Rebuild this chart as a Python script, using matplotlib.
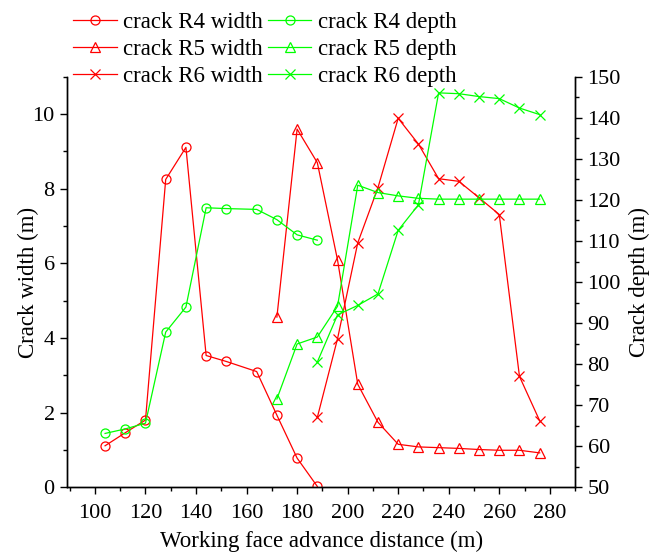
import numpy as np
import matplotlib
matplotlib.use('Agg')
import matplotlib.pyplot as plt
from matplotlib.ticker import MultipleLocator

plt.rcParams['font.family'] = 'Liberation Serif'
plt.rcParams['font.size'] = 16.5

# advance distance (m)
x_r4 = [104, 112, 120, 128, 136, 144, 152, 164, 172, 180, 188]
x_r5 = [172, 180, 188, 196, 204, 212, 220, 228, 236, 244, 252, 260, 268, 276]
x_r6 = [188, 196, 204, 212, 220, 228, 236, 244, 252, 260, 268, 276]

# crack width (m)
r4_width = [1.11, 1.46, 1.80, 8.25, 9.11, 3.53, 3.37, 3.10, 1.93, 0.78, 0.02]
r5_width = [4.56, 9.60, 8.70, 6.09, 2.76, 1.74, 1.15, 1.08, 1.06, 1.04, 1.01, 0.99, 0.99, 0.92]
r6_width = [1.87, 3.98, 6.55, 8.03, 9.89, 9.20, 8.27, 8.20, 7.76, 7.31, 2.97, 1.78]

# crack depth (m)
r4_depth = [63.1, 64.2, 65.6, 87.8, 93.9, 118.1, 117.9, 117.7, 115.2, 111.5, 110.2]
r5_depth = [71.5, 84.9, 86.6, 94.1, 123.6, 121.8, 121.0, 120.4, 120.2, 120.2, 120.2, 120.2, 120.2, 120.2]
r6_depth = [80.5, 92.0, 94.3, 97.1, 112.6, 118.8, 146.1, 145.9, 145.2, 144.7, 142.4, 140.8]

red = '#ff0000'
green = '#00ff00'

fig = plt.figure(figsize=(6.52, 5.53), dpi=100)
ax = fig.add_axes([0.103, 0.119, 0.779, 0.742])
ax2 = ax.twinx()

kw = dict(lw=0.9, ms=6.5, mfc='none', mew=0.9)
h1, = ax.plot(x_r4, r4_width, color=red, marker='o', label='crack R4 width', **kw)
h2, = ax.plot(x_r5, r5_width, color=red, marker='^', label='crack R5 width', **kw)
h3, = ax.plot(x_r6, r6_width, color=red, marker='x', label='crack R6 width', **kw)
h4, = ax2.plot(x_r4, r4_depth, color=green, marker='o', label='crack R4 depth', **kw)
h5, = ax2.plot(x_r5, r5_depth, color=green, marker='^', label='crack R5 depth', **kw)
h6, = ax2.plot(x_r6, r6_depth, color=green, marker='x', label='crack R6 depth', **kw)

ax.set_xlim(89, 290)
ax.set_ylim(0, 11)
ax2.set_ylim(50, 150)

ax.xaxis.set_major_locator(MultipleLocator(20))
ax.xaxis.set_minor_locator(MultipleLocator(10))
ax.yaxis.set_major_locator(MultipleLocator(2))
ax.yaxis.set_minor_locator(MultipleLocator(1))
ax2.yaxis.set_major_locator(MultipleLocator(10))
ax2.yaxis.set_minor_locator(MultipleLocator(5))

for a in (ax, ax2):
    a.spines['top'].set_visible(False)
    a.tick_params(which='major', length=5, width=1, labelsize=16, pad=4)
    a.tick_params(which='minor', length=3, width=1)
    for s in a.spines.values():
        s.set_linewidth(1)
ax.tick_params(axis='x', which='major', pad=7)

ax.set_xlabel('Working face advance distance (m)', labelpad=6)
ax.set_ylabel('Crack width (m)', labelpad=-5)
ax2.set_ylabel('Crack depth (m)', labelpad=6)

fig.legend(handles=[h1, h2, h3, h4, h5, h6], ncol=2, loc='upper left',
           bbox_to_anchor=(0.112, 0.978), frameon=False, borderpad=0,
           handlelength=1.9, handletextpad=0.3, columnspacing=0.2,
           labelspacing=0.26, borderaxespad=0)

plt.savefig('out.png', dpi=100)
